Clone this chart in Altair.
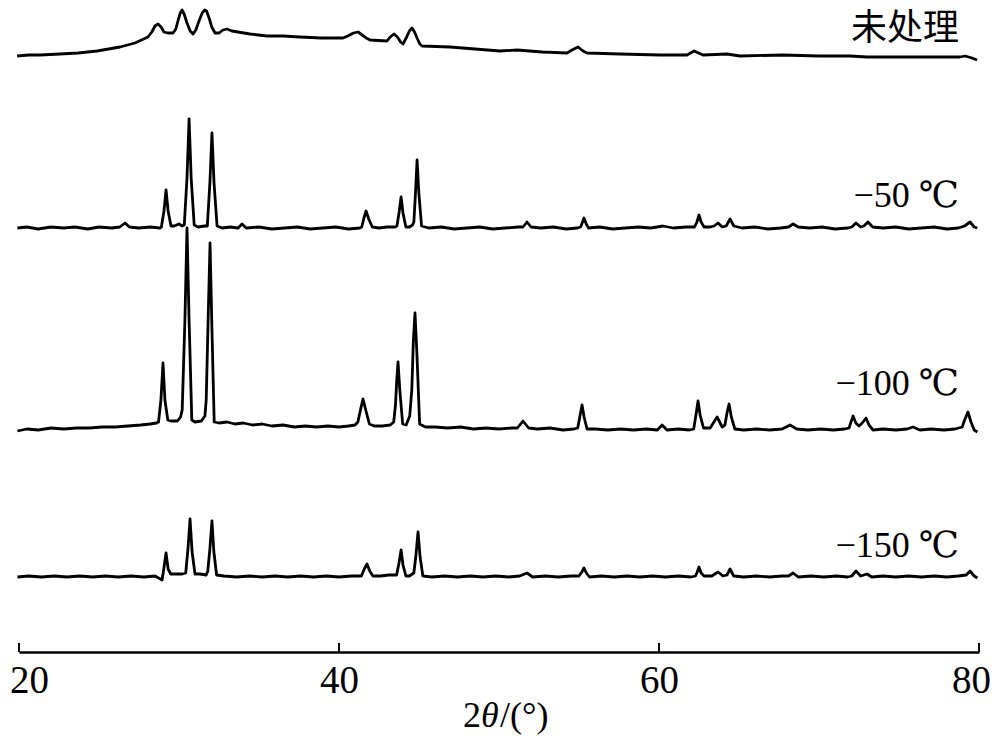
import altair as alt
import pandas as pd

# ---- data (2theta in degrees, intensity above each trace's own baseline) ----
SERIES = ["未处理", "−50 ℃", "−100 ℃", "−150 ℃"]
OFFSETS = [596, 424, 222, 75]          # vertical stacking offset of each trace

PTS_RAW = [(19.88, 0), (20.6, 1), (21.31, 1), (22.56, 2), (23.7, 3), (24.88, 5), (25.6, 7), (26.31, 9),
           (27.25, 13), (28.06, 19), (28.3, 24), (28.5, 30), (28.69, 32), (28.88, 29), (29.06, 24),
           (29.3, 23), (29.63, 23), (29.8, 27), (29.95, 36), (30.08, 43), (30.19, 46), (30.32, 42),
           (30.5, 33), (30.7, 25), (30.88, 22), (31.05, 26), (31.25, 35), (31.45, 43), (31.6, 46),
           (31.72, 45), (31.88, 38), (32.05, 29), (32.25, 23), (32.5, 23), (32.75, 26), (33.0, 27),
           (33.31, 25), (34.44, 22), (35.5, 20), (36.5, 20), (37.56, 19), (38.9, 18), (40.25, 18),
           (40.55, 20), (40.9, 23), (41.19, 24), (41.45, 21), (41.7, 18), (41.94, 16), (43.0, 15),
           (43.2, 19), (43.44, 22), (43.65, 19), (43.85, 14), (44.0, 12), (44.2, 18), (44.4, 25),
           (44.56, 28), (44.72, 24), (44.88, 18), (45.05, 12), (45.19, 10), (46.94, 9), (48.5, 7),
           (50.06, 5), (51.13, 6), (52.7, 4), (54.25, 3), (54.56, 6), (54.94, 9), (55.25, 5),
           (55.5, 3), (57.56, 2), (60.06, 1), (61.75, 1), (62.19, 5), (62.75, 1), (64.25, 2),
           (65.06, 0), (67.75, 1), (70.0, 0), (71.94, 0), (73.0, -1), (76.31, -1), (78.81, -1),
           (79.13, 0), (79.56, -2), (79.88, -4)]

PTS_M50 = [(19.9, 0), (20.5, 1), (21.2, -1), (22.0, 1), (22.8, 0), (23.5, 1), (24.3, -1), (25.0, 1),
           (25.8, 0), (26.3, 1), (26.63, 5), (26.9, 1), (27.5, 0), (28.2, 1), (28.8, 0),
           (28.9, 1), (29.06, 17), (29.19, 38), (29.32, 17), (29.5, 2),
           (29.7, 2), (30.0, 4), (30.2, 2),
           (30.33, 3), (30.5, 50), (30.63, 109), (30.76, 50), (30.95, 3),
           (31.2, 1), (31.6, 2),
           (31.77, 2), (31.93, 45), (32.06, 95), (32.19, 45), (32.38, 2),
           (32.7, 0), (33.2, 1), (33.7, 0), (33.94, 4), (34.2, 0), (35.0, 1), (35.8, -1), (36.6, 0),
           (37.4, 1), (38.2, -1), (39.0, 0), (39.8, 1), (40.6, -1), (41.3, 0),
           (41.42, 1), (41.56, 10), (41.69, 17), (41.86, 9), (42.08, 1),
           (42.5, 0), (43.0, 1), (43.5, 1),
           (43.62, 2), (43.76, 16), (43.88, 31), (44.0, 15), (44.18, 1),
           (44.4, 1), (44.6, 3),
           (44.68, 6), (44.78, 35), (44.88, 68), (44.99, 35), (45.16, 2),
           (45.6, 0), (46.4, 1), (47.2, -1), (48.0, 0), (48.8, 1), (49.6, -1), (50.4, 0), (51.2, 1),
           (51.5, 1), (51.75, 6), (52.0, 1),
           (52.6, 0), (53.4, 1), (54.2, -1), (54.9, 0),
           (55.1, 1), (55.2, 5), (55.31, 10), (55.45, 4), (55.6, 0),
           (56.3, 1), (57.1, -1), (57.9, 0), (58.7, 1), (59.5, 0), (60.25, 2), (60.9, 0), (61.7, 1),
           (62.22, 1), (62.37, 6), (62.5, 13), (62.63, 6), (62.82, 1),
           (63.2, 1), (63.45, 2), (63.69, 5), (63.95, 1), (64.2, 2), (64.44, 9), (64.68, 2),
           (65.2, 0), (66.0, 1), (66.8, -1), (67.6, 0), (68.1, 1), (68.38, 4), (68.7, 1), (69.4, 0),
           (70.2, 1), (71.0, -1), (71.8, 0),
           (72.05, 1), (72.31, 5), (72.6, 1), (72.8, 2), (73.06, 6), (73.35, 1),
           (74.0, 0), (74.8, 1), (75.6, -1), (76.4, 0), (77.2, 1), (78.0, -1), (78.7, 0),
           (79.1, 2), (79.44, 6), (79.7, 1), (79.9, 0)]

PTS_M100 = [(19.9, -1), (20.5, 1), (21.2, 0), (22.0, 2), (22.8, 1), (23.6, 2), (24.4, 2), (25.2, 3),
            (26.0, 3), (26.8, 4), (27.6, 5), (28.2, 6), (28.6, 7),
            (28.72, 8), (28.87, 30), (29.0, 67), (29.12, 30), (29.3, 10),
            (29.5, 9), (29.9, 9), (30.1, 13),
            (30.2, 20), (30.37, 110), (30.5, 202), (30.63, 110), (30.8, 10),
            (31.0, 8), (31.4, 9), (31.62, 14),
            (31.7, 30), (31.82, 110), (31.94, 187), (32.06, 100), (32.2, 8),
            (32.5, 7), (33.0, 8), (33.5, 6), (34.0, 7), (34.6, 5), (35.2, 6), (35.8, 4), (36.5, 5),
            (37.2, 3), (37.9, 4), (38.6, 3), (39.3, 4), (40.0, 3), (40.6, 4), (41.0, 5),
            (41.18, 8), (41.34, 20), (41.5, 31), (41.67, 20), (41.9, 6),
            (42.2, 4), (42.7, 4), (43.2, 5), (43.42, 8),
            (43.53, 25), (43.61, 50), (43.69, 68), (43.8, 40), (43.98, 6),
            (44.2, 5), (44.42, 14),
            (44.55, 40), (44.65, 90), (44.75, 117), (44.86, 80), (45.04, 6),
            (45.4, 3), (46.0, 3), (46.8, 2), (47.6, 3), (48.4, 1), (49.2, 2), (50.0, 1), (50.8, 2),
            (51.15, 2), (51.5, 9), (51.85, 2),
            (52.4, 1), (53.2, 2), (54.0, 0), (54.7, 1),
            (54.92, 2), (55.06, 14), (55.19, 25), (55.32, 13), (55.5, 1),
            (56.0, 1), (56.8, 0), (57.6, 1), (58.4, 0), (59.2, 1), (59.9, 0), (60.19, 5), (60.5, 0),
            (61.2, 1), (61.9, 0),
            (62.17, 1), (62.31, 15), (62.44, 29), (62.57, 15), (62.78, 2),
            (63.2, 2), (63.63, 13), (63.95, 3),
            (64.12, 5), (64.26, 18), (64.38, 26), (64.52, 13), (64.74, 1),
            (65.3, 0), (66.1, 1), (66.9, 0), (67.7, 1), (68.19, 5), (68.6, 1), (69.3, 0), (70.1, 1),
            (70.9, 0), (71.6, 1),
            (71.88, 2), (72.0, 8), (72.13, 14), (72.3, 7), (72.5, 4), (72.7, 7), (72.94, 12),
            (73.12, 5), (73.38, 0),
            (74.0, 1), (74.8, 0), (75.5, 1), (75.88, 3), (76.3, 0), (77.0, 1), (77.8, 0), (78.5, 1),
            (78.95, 3), (79.1, 10), (79.31, 18), (79.5, 8), (79.7, 0), (79.9, -2)]

PTS_M150 = [(19.9, 0), (20.6, 1), (21.4, 0), (22.2, 1), (23.0, 0), (23.8, 1), (24.6, 0), (25.4, 1),
            (26.2, 0), (27.0, 1), (27.8, 0), (28.5, 1), (28.94, -3),
            (29.05, 8), (29.19, 24), (29.32, 8), (29.48, 3),
            (29.8, 3), (30.2, 3), (30.42, 4),
            (30.56, 28), (30.69, 58), (30.82, 25), (31.0, 3),
            (31.3, 3), (31.7, 2), (31.8, 6),
            (31.93, 28), (32.06, 56), (32.18, 25), (32.35, 2),
            (32.8, 1), (33.6, 0), (34.4, 1), (35.2, 0), (36.0, 1), (36.8, 0), (37.6, 1), (38.4, 0),
            (39.2, 1), (40.0, 0), (40.8, 1), (41.4, 1),
            (41.58, 8), (41.75, 13), (41.92, 6), (42.12, 1),
            (42.6, 1), (43.1, 2), (43.6, 2),
            (43.75, 14), (43.88, 27), (44.0, 12), (44.18, 1),
            (44.4, 1), (44.68, 4),
            (44.81, 22), (44.94, 45), (45.07, 20), (45.24, 1),
            (45.8, 0), (46.6, 1), (47.4, 0), (48.2, 1), (49.0, 0), (49.8, 1), (50.6, 0), (51.3, 1),
            (51.75, 4), (52.1, 0), (52.9, 1), (53.7, 0), (54.5, 1), (55.0, 1),
            (55.18, 5), (55.31, 9), (55.46, 4), (55.66, 0),
            (56.4, 1), (57.2, 0), (58.0, 1), (58.8, 0), (59.6, 1), (60.4, 0), (61.2, 1), (62.0, 0),
            (62.28, 1), (62.39, 5), (62.5, 10), (62.63, 4), (62.82, 1),
            (63.3, 1), (63.69, 5), (64.0, 1), (64.25, 2), (64.44, 8), (64.67, 1),
            (65.3, 0), (66.1, 1), (66.9, 0), (67.7, 1), (68.1, 1), (68.38, 4), (68.7, 0), (69.5, 1),
            (70.3, 0), (71.1, 1), (71.8, 0),
            (72.05, 1), (72.31, 6), (72.6, 1), (73.0, 3), (73.3, 0),
            (74.0, 1), (74.8, 0), (75.6, 1), (76.4, 0), (77.2, 1), (78.0, 0), (78.7, 1),
            (79.2, 2), (79.44, 6), (79.7, 1), (79.9, -1)]

TICKS = [20, 40, 60, 80]
LABEL_X = 78.75
LABEL_Y = [612, 445, 257, 95]
TITLE_PARTS = ["2", "θ", "/(°)"]

# ---- build table ----
rows = []
for name, pts, off in zip(SERIES, [PTS_RAW, PTS_M50, PTS_M100, PTS_M150], OFFSETS):
    for i, (t, v) in enumerate(pts):
        rows.append({"series": name, "theta": t, "y": v + off, "i": i})
df = pd.DataFrame(rows)

xs = alt.Scale(domain=[20, 80], nice=False, zero=False)
ys = alt.Scale(domain=[0, 644], nice=False, zero=False)

SERIF = "Liberation Serif, Times New Roman, Tinos, DejaVu Serif, Noto Sans CJK SC, serif"

lines = alt.Chart(df).mark_line(color="black", strokeWidth=2.8, strokeJoin="round").encode(
    x=alt.X("theta:Q", scale=xs,
            axis=alt.Axis(values=TICKS, ticks=False, tickSize=0, grid=False,
                          domainColor="black", domainWidth=2.5,
                          labelFont=SERIF, labelFontSize=39, labelColor="black",
                          labelPadding=9, labelFlush=False, labelOverlap=False,
                          labelOffset={"condition": [{"test": "datum.value === 20", "value": 10},
                                                     {"test": "datum.value === 80", "value": -8}],
                                       "value": 0},
                          format="d", title=None)),
    y=alt.Y("y:Q", scale=ys, axis=None),
    detail="series:N",
    order="i:Q",
)

tick_df = pd.DataFrame({"t": TICKS, "y0": [0] * len(TICKS), "y1": [9] * len(TICKS)})
ticks = alt.Chart(tick_df).mark_rule(color="black", strokeWidth=2).encode(
    x=alt.X("t:Q", scale=xs),
    y=alt.Y("y0:Q", scale=ys),
    y2="y1:Q",
)

lab_df = pd.DataFrame({"text": SERIES, "x": [LABEL_X] * len(SERIES), "y": LABEL_Y})
labels = alt.Chart(lab_df).mark_text(
    align="right", baseline="alphabetic", font=SERIF, fontSize=36, color="black"
).encode(
    x=alt.X("x:Q", scale=xs),
    y=alt.Y("y:Q", scale=ys),
    text="text:N",
)

def title_piece(txt, xpos, italic=False):
    kw = dict(align="left", baseline="alphabetic", font=SERIF, fontSize=36, color="black")
    if italic:
        kw["fontStyle"] = "italic"
    return alt.Chart(pd.DataFrame({"t": [txt]})).mark_text(**kw).encode(
        text="t:N", x=alt.value(xpos), y=alt.value(719)
    )

t1 = title_piece(TITLE_PARTS[0], 444)
t2 = title_piece(TITLE_PARTS[1], 462, italic=True)
t3 = title_piece(TITLE_PARTS[2], 481)

chart = alt.layer(lines, ticks, labels, t1, t2, t3).properties(
    width=960,
    height=644,
    autosize=alt.AutoSizeParams(type="none"),
    padding={"left": 11, "top": 0, "right": 13, "bottom": 84},
).configure_view(stroke=None)

chart.save("out.html", embed_options={"renderer": "svg", "actions": False})
